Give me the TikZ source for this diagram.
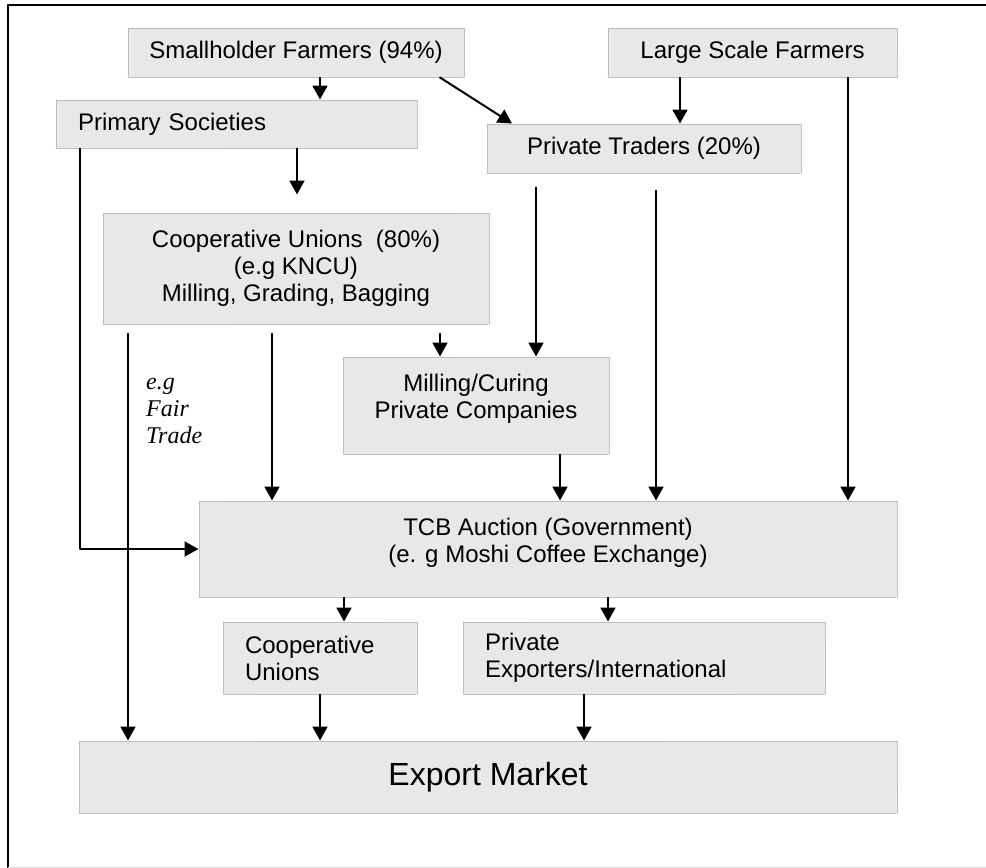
\documentclass[tikz,border=0pt]{standalone}
\usepackage{fontspec}
\setmainfont{Liberation Sans}
\newfontfamily\fairfont{Liberation Serif}
\usepackage{tikz}
\usetikzlibrary{arrows.meta}
\usetikzlibrary{calc}

\begin{document}
\begin{tikzpicture}[line cap=round,line join=round,>={Triangle[length=14pt,width=15pt]},x=1pt,y=-1pt,
    box/.style={fill=black!9,draw=black!28,densely dotted,line width=1pt,inner sep=0pt,align=center,font=\fontsize{24}{27}\selectfont},
    leftbox/.style={box,align=left,inner xsep=22pt},
    flow/.style={->,line width=2pt,solid}]
\useasboundingbox (0,0) rectangle (986,868);
\draw [line width=2pt] (8,868) -- (8,4.5) -- (986,4.5);
\draw [line width=1pt,color=black!12] (8,867) -- (986,867);

\node [box,minimum width=336pt,minimum height=49pt] (sh) at (296,52.5) {Smallholder Farmers (94\%)};
\node [box,minimum width=289pt,minimum height=49pt] (lsf) at (752.5,52.5) {Large Scale Farmers};
\node [leftbox,text width=317pt,minimum height=48pt] (ps) at (236.5,124) {Primary Societies};
\node [box,minimum width=314pt,minimum height=49pt] (pt) at (644,148.5) {Private Traders (20\%)};
\node [box,minimum width=386pt,minimum height=111pt] (cu) at (296,268.5) {Cooperative Unions\ \ (80\%)\\(e.g KNCU)\\Milling, Grading, Bagging};
\node [box,minimum width=266pt,minimum height=97pt,text depth=18pt] (mc) at (476,405.5) {Milling/Curing\\Private Companies};
\node [box,minimum width=698pt,minimum height=96pt,text depth=17pt] (tcb) at (548,549) {TCB Auction (Government)\\(e. g Moshi Coffee Exchange)};
\node [leftbox,text width=150pt,minimum height=72pt] (cus) at (320,658) {Cooperative\\Unions};
\node [leftbox,text width=318pt,minimum height=72pt] (pe) at (644,658) {Private\\Exporters/International};
\node [box,minimum width=818pt,minimum height=72pt,font=\fontsize{32}{36}\selectfont] (em) at (488,777) {Export Market};
\node [anchor=north west,align=left,inner sep=0pt,font=\fontsize{24}{27}\fairfont\itshape] (ft) at (146,378) {e.g\\Fair\\Trade};

\draw [flow] (sh.south -| 320,0) -- (ps.north -| 320,0);
\draw [flow] (sh.south -| 440,0) -- (pt.north -| 512,0);
\draw [flow] (lsf.south -| 680,0) -- (pt.north -| 680,0);
\draw [flow] (lsf.south -| 848,0) -- (tcb.north -| 848,0);
\draw [flow,shorten >=18pt] (ps.south -| 297,0) -- (cu.north -| 297,0);
\draw [flow] (ps.south -| 80,0) |- (tcb.west);
\draw [flow,shorten <=14pt] (pt.south -| 536,0) -- (mc.north -| 536,0);
\draw [flow,shorten <=17pt] (pt.south -| 656,0) -- (tcb.north -| 656,0);
\draw [flow,shorten <=9pt] (cu.south -| 440,0) -- (mc.north -| 440,0);
\draw [flow,shorten <=9pt] (cu.south -| 272,0) -- (tcb.north -| 272,0);
\draw [flow,shorten <=9pt] (cu.south -| 128,0) -- (em.north -| 128,0);
\draw [flow] (mc.south -| 560,0) -- (tcb.north -| 560,0);
\draw [flow] (tcb.south -| 344,0) -- (cus.north -| 344,0);
\draw [flow] (tcb.south -| 608,0) -- (pe.north -| 608,0);
\draw [flow] (cus.south -| 320,0) -- (em.north -| 320,0);
\draw [flow] (pe.south -| 584,0) -- (em.north -| 584,0);
\end{tikzpicture}
\end{document}
